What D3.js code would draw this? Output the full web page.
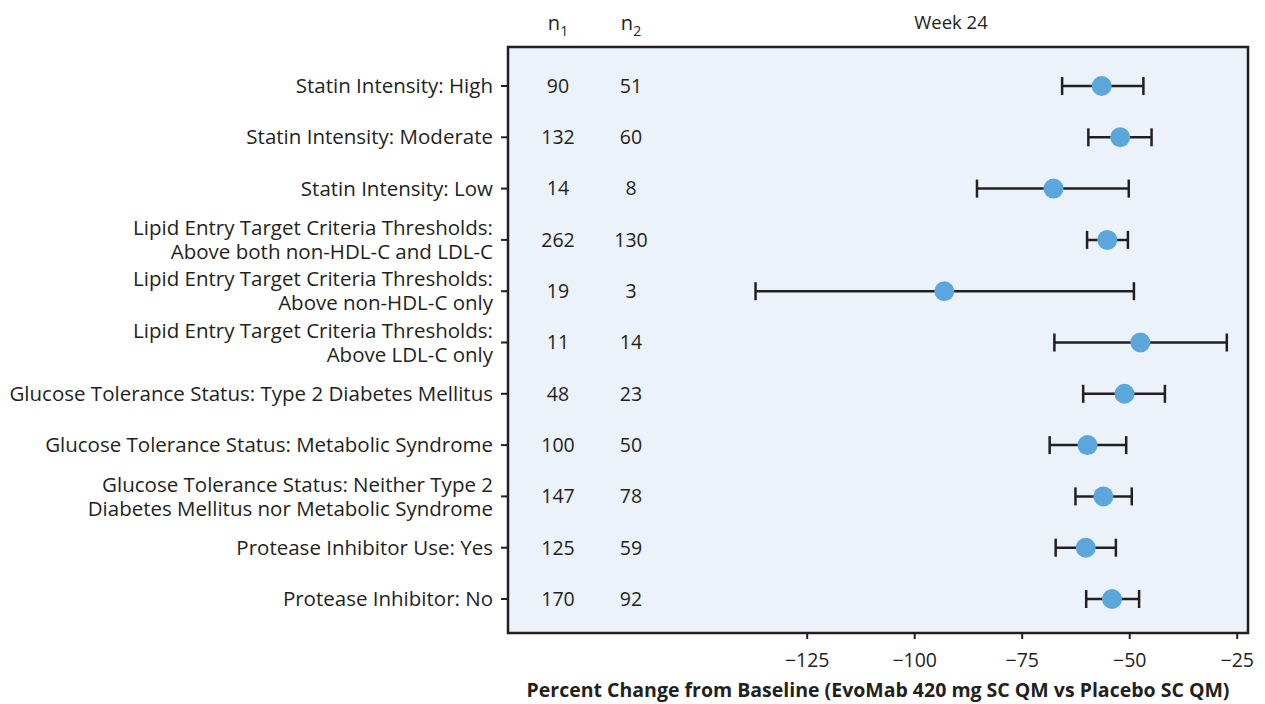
<!DOCTYPE html>
<html>
<head>
<meta charset="utf-8">
<script src="https://cdn.jsdelivr.net/npm/d3@7"></script>
<style>
  body { margin: 0; background: #fff; }
  text { font-family: "Open Sans", "Noto Sans", sans-serif; fill: #231f20; font-weight: 500; }
</style>
</head>
<body>
<div id="chart"></div>
<script>
var subgroups = [
    ["Statin Intensity: High"],
    ["Statin Intensity: Moderate"],
    ["Statin Intensity: Low"],
    ["Lipid Entry Target Criteria Thresholds:", "Above both non-HDL-C and LDL-C"],
    ["Lipid Entry Target Criteria Thresholds:", "Above non-HDL-C only"],
    ["Lipid Entry Target Criteria Thresholds:", "Above LDL-C only"],
    ["Glucose Tolerance Status: Type 2 Diabetes Mellitus"],
    ["Glucose Tolerance Status: Metabolic Syndrome"],
    ["Glucose Tolerance Status: Neither Type 2", "Diabetes Mellitus nor Metabolic Syndrome"],
    ["Protease Inhibitor Use: Yes"],
    ["Protease Inhibitor: No"]
];
var n1 = [90, 132, 14, 262, 19, 11, 48, 100, 147, 125, 170];
var n2 = [51, 60, 8, 130, 3, 14, 23, 50, 78, 59, 92];
var estimate = [-56.4, -52.1, -67.6, -55.1, -93.0, -47.4, -51.1, -59.7, -56.0, -60.1, -54.0];
var lower = [-65.6, -59.5, -85.4, -59.8, -136.9, -67.4, -60.7, -68.5, -62.5, -67.1, -60.0];
var upper = [-46.7, -44.8, -50.1, -50.3, -48.9, -27.3, -41.7, -50.7, -49.4, -53.1, -47.7];
var xTicks = [-125, -100, -75, -50, -25];

var width = 1265, height = 704;
var frame = {left: 508, right: 1248, top: 47, bottom: 633};

var svg = d3.select("#chart").append("svg")
    .attr("width", width)
    .attr("height", height);

var xScale = d3.scaleLinear()
    .domain([-125, -25])
    .range([806.7, 1236.7]);

var yScale = d3.scalePoint()
    .domain(d3.range(subgroups.length))
    .range([86, 599]);

var colScale = d3.scalePoint()
    .domain(["n1", "n2"])
    .range([558, 631]);

// panel background
svg.append("rect")
    .attr("x", frame.left)
    .attr("y", frame.top)
    .attr("width", frame.right - frame.left)
    .attr("height", frame.bottom - frame.top)
    .attr("fill", "#ebf2fa")
    .attr("stroke", "#231f20")
    .attr("stroke-width", 2.5);

// x axis
var xAxis = d3.axisBottom(xScale)
    .tickValues(xTicks)
    .tickSize(6)
    .tickFormat(function(d) { return "\u2212" + Math.abs(d); });
var gx = svg.append("g")
    .attr("transform", "translate(0," + frame.bottom + ")")
    .call(xAxis);
gx.select(".domain").remove();
gx.selectAll("line").attr("stroke", "#231f20").attr("stroke-width", 2);
gx.selectAll("text")
    .attr("y", 20)
    .attr("dy", "0.71em")
    .style("font-size", "19.5px")
    .style("font-family", "'Open Sans', sans-serif")
    .style("font-weight", 500)
    .attr("fill", "#231f20");

svg.append("text")
    .attr("x", (frame.left + frame.right) / 2)
    .attr("y", 697)
    .attr("text-anchor", "middle")
    .style("font-size", "19.5px")
    .style("font-weight", "bold")
    .text("Percent Change from Baseline (EvoMab 420 mg SC QM vs Placebo SC QM)");

// y ticks
svg.selectAll(".ytick")
    .data(subgroups)
    .enter().append("line")
    .attr("class", "ytick")
    .attr("x1", frame.left - 7)
    .attr("x2", frame.left)
    .attr("y1", function(d, i) { return yScale(i); })
    .attr("y2", function(d, i) { return yScale(i); })
    .attr("stroke", "#231f20")
    .attr("stroke-width", 2);

// row labels
var labels = svg.selectAll(".rowlabel")
    .data(subgroups)
    .enter().append("text")
    .attr("class", "rowlabel")
    .attr("text-anchor", "end")
    .style("font-size", "20.5px")
    .attr("transform", function(d, i) { return "translate(493," + yScale(i) + ")"; });
labels.selectAll("tspan")
    .data(function(d) { return d; })
    .enter().append("tspan")
    .attr("x", 0)
    .attr("y", function(d, j, nodes) {
        var k = nodes.length;
        return (j - (k - 1) / 2) * 24;
    })
    .attr("dy", "0.35em")
    .text(function(d) { return d; });

// headers
var headers = [["n", "1"], ["n", "2"]];
headers.forEach(function(h, i) {
    var t = svg.append("text")
        .attr("x", colScale(i === 0 ? "n1" : "n2"))
        .attr("y", 30)
        .attr("text-anchor", "middle")
        .style("font-size", "20px");
    t.append("tspan").text(h[0]);
    t.append("tspan").attr("dy", 6).style("font-size", "14px").text(h[1]);
});

svg.append("text")
    .attr("x", 951)
    .attr("y", 29)
    .attr("text-anchor", "middle")
    .style("font-size", "18.5px")
    .text("Week 24");

// n columns
svg.selectAll(".n1")
    .data(n1)
    .enter().append("text")
    .attr("class", "n1")
    .attr("x", colScale("n1"))
    .attr("y", function(d, i) { return yScale(i); })
    .attr("dy", "0.35em")
    .attr("text-anchor", "middle")
    .style("font-size", "19.5px")
    .text(function(d) { return d; });

svg.selectAll(".n2")
    .data(n2)
    .enter().append("text")
    .attr("class", "n2")
    .attr("x", colScale("n2"))
    .attr("y", function(d, i) { return yScale(i); })
    .attr("dy", "0.35em")
    .attr("text-anchor", "middle")
    .style("font-size", "19.5px")
    .text(function(d) { return d; });

// error bars
var bars = svg.selectAll(".ci")
    .data(estimate)
    .enter().append("g")
    .attr("class", "ci")
    .attr("stroke", "#231f20")
    .attr("stroke-width", 2.5);

bars.append("line")
    .attr("x1", function(d, i) { return xScale(lower[i]); })
    .attr("x2", function(d, i) { return xScale(upper[i]); })
    .attr("y1", function(d, i) { return yScale(i); })
    .attr("y2", function(d, i) { return yScale(i); });

bars.append("line")
    .attr("x1", function(d, i) { return xScale(lower[i]); })
    .attr("x2", function(d, i) { return xScale(lower[i]); })
    .attr("y1", function(d, i) { return yScale(i) - 9; })
    .attr("y2", function(d, i) { return yScale(i) + 9; });

bars.append("line")
    .attr("x1", function(d, i) { return xScale(upper[i]); })
    .attr("x2", function(d, i) { return xScale(upper[i]); })
    .attr("y1", function(d, i) { return yScale(i) - 9; })
    .attr("y2", function(d, i) { return yScale(i) + 9; });

// point estimates
svg.selectAll(".dot")
    .data(estimate)
    .enter().append("circle")
    .attr("class", "dot")
    .attr("cx", function(d) { return xScale(d); })
    .attr("cy", function(d, i) { return yScale(i); })
    .attr("r", 10)
    .attr("fill", "#5ba7dc");
</script>
</body>
</html>
